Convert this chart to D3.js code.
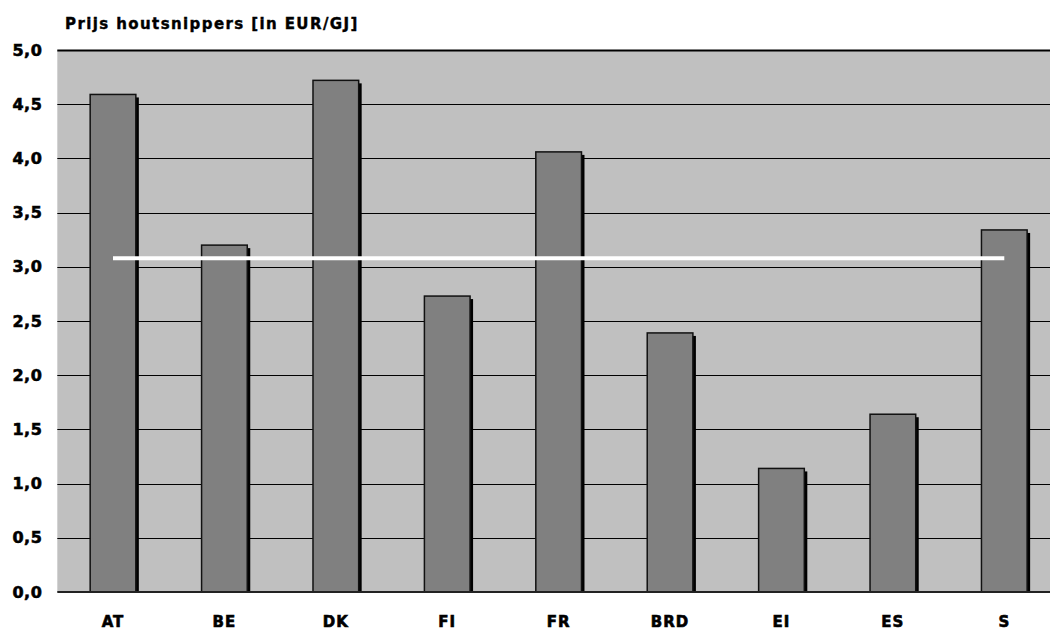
<!DOCTYPE html>
<html>
<head>
<meta charset="utf-8">
<script src="https://cdn.jsdelivr.net/npm/d3@7"></script>
<style>
  html, body { margin: 0; padding: 0; background: #ffffff; }
  svg { display: block; }
  text { font-family: "DejaVu Sans", "Liberation Sans", sans-serif; font-weight: bold; fill: #000; }
  .heavy { stroke: #000; stroke-width: 0.6px; paint-order: stroke; }
</style>
</head>
<body>
<svg id="chart" width="1050" height="633"></svg>
<script>
// Wood chip prices per country (EUR/GJ)
const countries = ["AT", "BE", "DK", "FI", "FR", "BRD", "EI", "ES", "S"];
const prices = [4.59, 3.20, 4.72, 2.73, 4.06, 2.39, 1.14, 1.64, 3.34];
// Average price line
const average = [3.08, 3.08, 3.08, 3.08, 3.08, 3.08, 3.08, 3.08, 3.08];
const yTicks = [0, 0.5, 1, 1.5, 2, 2.5, 3, 3.5, 4, 4.5, 5];
const title = "Prijs houtsnippers [in EUR/GJ]";

const svg = d3.select("#chart");
const plot = { left: 57.3, top: 50, right: 1060, bottom: 592 };

const x = d3.scaleBand()
  .domain(countries)
  .range([plot.left, plot.right])
  .paddingInner(0.59)
  .paddingOuter(0.295);
const xc = d3.scaleBand().domain(countries).range([plot.left, plot.right]);
const y = d3.scaleLinear().domain([0, 5]).range([plot.bottom, plot.top]);

// Plot background
svg.append("rect")
  .attr("x", plot.left).attr("y", plot.top)
  .attr("width", plot.right - plot.left).attr("height", plot.bottom - plot.top)
  .attr("fill", "#c0c0c0");

// Gridlines
svg.append("g").selectAll("line")
  .data(yTicks.filter(d => d > 0))
  .join("line")
  .attr("x1", plot.left).attr("x2", plot.right)
  .attr("y1", d => Math.round(y(d)) + 0.5).attr("y2", d => Math.round(y(d)) + 0.5)
  .attr("stroke", "#000").attr("stroke-width", d => d === 5 ? 2 : 1);

// Y axis labels
const yAxis = d3.axisLeft(y).tickValues(yTicks).tickSize(0).tickPadding(15)
  .tickFormat(d => d3.format(".1f")(d).replace(".", ","));
const gy = svg.append("g").attr("transform", `translate(${plot.left},0)`).call(yAxis);
gy.select(".domain").remove();
gy.selectAll("text")
  .attr("class", "heavy")
  .style("font-size", "16px").style("font-family", "DejaVu Sans, sans-serif").style("font-weight", "bold")
  .style("letter-spacing", "0.5px");

// Bar shadows
svg.append("g").selectAll("rect")
  .data(countries)
  .join("rect")
  .attr("x", (d) => x(d) + 3)
  .attr("y", (d, i) => y(prices[i]) + 3)
  .attr("width", x.bandwidth())
  .attr("height", (d, i) => plot.bottom - y(prices[i]) - 3)
  .attr("fill", "#000");

// Bars
svg.append("g").selectAll("rect")
  .data(countries)
  .join("rect")
  .attr("x", d => x(d))
  .attr("y", (d, i) => y(prices[i]))
  .attr("width", x.bandwidth())
  .attr("height", (d, i) => plot.bottom - y(prices[i]))
  .attr("fill", "#808080")
  .attr("stroke", "#111")
  .attr("stroke-width", 1.5);

// Average line
const line = d3.line()
  .x((d, i) => xc(countries[i]) + xc.bandwidth() / 2)
  .y(d => y(d));
svg.append("path")
  .datum(average)
  .attr("d", line)
  .attr("fill", "none")
  .attr("stroke", "#ffffff")
  .attr("stroke-width", 4);

// Bottom axis line
svg.append("line")
  .attr("x1", plot.left).attr("x2", plot.right)
  .attr("y1", plot.bottom).attr("y2", plot.bottom)
  .attr("stroke", "#222").attr("stroke-width", 2);

// Category labels
const xAxis = d3.axisBottom(xc).tickSize(0).tickPadding(24);
const gx = svg.append("g").attr("transform", `translate(0,${plot.bottom})`).call(xAxis);
gx.select(".domain").remove();
gx.selectAll("text")
  .attr("class", "heavy")
  .style("font-size", "15px").style("font-family", "DejaVu Sans, sans-serif").style("font-weight", "bold")
  .style("letter-spacing", "1px");

// Title
svg.append("text")
  .attr("class", "heavy")
  .attr("x", 65).attr("y", 29)
  .style("font-size", "15px")
  .style("letter-spacing", "1.4px")
  .style("stroke-width", "0.4px")
  .text(title);
</script>
</body>
</html>
